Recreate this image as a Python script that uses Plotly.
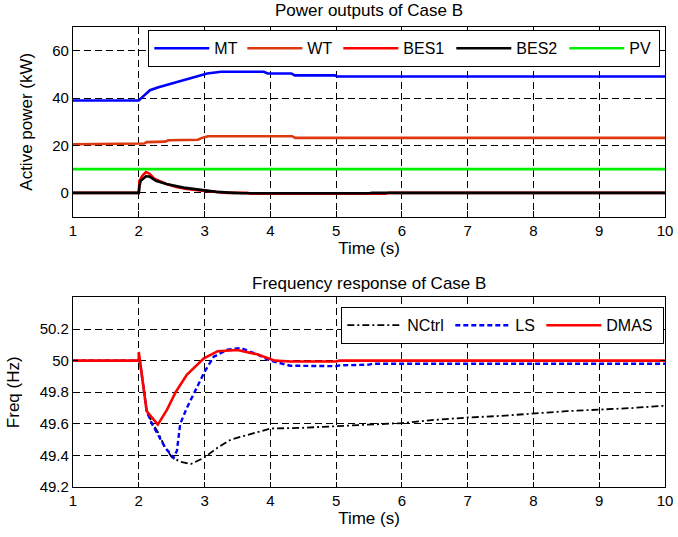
import plotly.graph_objects as go
from plotly.subplots import make_subplots

# ---------------- Data: Power outputs (kW) ----------------
t_mt = [1, 2.0, 2.05, 2.17, 2.3, 2.43, 2.55, 2.68, 2.8, 2.94, 3.04, 3.25, 3.9, 3.96, 4.32, 4.37, 4.98, 5.02, 10]
p_mt = [39, 39, 40.3, 43.3, 44.6, 45.6, 46.6, 47.6, 48.6, 49.5, 50.4, 51.1, 51.1, 50.4, 50.4, 49.6, 49.6, 49.1, 49.1]

t_wt = [1, 2.0, 2.08, 2.12, 2.4, 2.45, 2.9, 2.95, 3.05, 4.33, 4.38, 10]
p_wt = [20.5, 20.5, 20.8, 21.4, 21.6, 22.2, 22.4, 23.1, 23.9, 23.9, 23.2, 23.2]

t_bes1 = [1, 2.0, 2.01, 2.06, 2.11, 2.16, 2.24, 2.32, 2.42, 2.57, 2.73, 2.93, 3.21, 3.35, 3.65, 3.7, 5.75, 5.8, 10]
p_bes1 = [0, 0, 5.1, 7.4, 8.8, 8.1, 5.9, 4.9, 3.7, 2.5, 1.6, 1.0, 0.4, 0.0, 0.0, -0.4, -0.4, 0.0, 0.0]

t_bes2 = [1, 2.0, 2.01, 2.03, 2.11, 2.16, 2.26, 2.42, 2.68, 2.93, 3.18, 3.44, 3.6, 5.5, 5.55, 10]
p_bes2 = [0, 0, 2.9, 5.1, 7.0, 6.9, 5.1, 3.7, 2.2, 1.2, 0.4, 0.0, -0.2, -0.2, 0.0, 0.0]

t_pv = [1, 10]
p_pv = [10, 10]

# ---------------- Data: Frequency (Hz) ----------------
t_nctrl = [1, 2.0, 2.02, 2.07, 2.12, 2.2, 2.3, 2.4, 2.5, 2.63, 2.79, 2.99, 3.2, 3.4, 3.65, 4.0, 4.5, 5.0, 5.5, 6.0, 6.5, 7.0, 7.5, 8.0, 8.5, 9.0, 9.5, 10]
f_nctrl = [50, 50, 49.99, 49.85, 49.68, 49.61, 49.54, 49.45, 49.39, 49.36, 49.345, 49.385, 49.45, 49.5, 49.53, 49.57, 49.575, 49.585, 49.595, 49.605, 49.625, 49.64, 49.65, 49.665, 49.68, 49.69, 49.70, 49.715]

t_ls = [1, 2.0, 2.02, 2.07, 2.12, 2.2, 2.3, 2.4, 2.48, 2.53, 2.58, 2.63, 2.73, 2.86, 3.0, 3.14, 3.35, 3.55, 3.8, 4.0, 4.3, 5.0, 5.05, 5.5, 5.55, 10]
f_ls = [50, 50, 49.99, 49.85, 49.68, 49.6, 49.52, 49.45, 49.41, 49.385, 49.43, 49.6, 49.70, 49.815, 49.93, 50.025, 50.07, 50.08, 50.04, 50.0, 49.968, 49.965, 49.97, 49.975, 49.98, 49.98]

t_dmas = [1, 2.0, 2.0, 2.02, 2.07, 2.12, 2.2, 2.29, 2.43, 2.56, 2.73, 2.99, 3.2, 3.5, 3.8, 4.07, 4.3, 5.0, 5.05, 10]
f_dmas = [50, 50, 50.055, 49.99, 49.85, 49.68, 49.64, 49.595, 49.69, 49.80, 49.91, 50.015, 50.06, 50.067, 50.04, 50.0, 49.995, 49.995, 50.0, 50.0]

x_ticks = [1, 2, 3, 4, 5, 6, 7, 8, 9, 10]
p_ticks = [0, 20, 40, 60]
f_ticks = [49.2, 49.4, 49.6, 49.8, 50.0, 50.2]
f_tick_text = ["49.2", "49.4", "49.6", "49.8", "50", "50.2"]

FONT = "Liberation Sans, Arial, Helvetica, sans-serif"
TFONT = dict(family=FONT, size=17, color="black")

fig = make_subplots(rows=2, cols=1, vertical_spacing=0.176)

top_series = [
    ("MT", t_mt, p_mt, "rgb(0,0,255)", 23),
    ("WT", t_wt, p_wt, "rgb(222,56,16)", 26),
    ("BES1", t_bes1, p_bes1, "rgb(255,0,0)", 43),
    ("BES2", t_bes2, p_bes2, "rgb(0,0,0)", 43),
    ("PV", t_pv, p_pv, "rgb(0,240,0)", 24),
]
for name, t, v, c, lw in top_series:
    fig.add_trace(go.Scatter(x=t, y=v, mode="lines", name=name, legendwidth=lw,
                             line=dict(color=c, width=2.6), legend="legend"),
                  row=1, col=1)

fig.add_trace(go.Scatter(x=t_nctrl, y=f_nctrl, mode="lines", name="NCtrl", legendwidth=38,
                         line=dict(color="black", width=1.8, dash="7px,3px,2px,3px"),
                         legend="legend2"), row=2, col=1)
fig.add_trace(go.Scatter(x=t_ls, y=f_ls, mode="lines", name="LS", legendwidth=21,
                         line=dict(color="rgb(0,0,255)", width=2.4, dash="5px,3px"),
                         legend="legend2"), row=2, col=1)
fig.add_trace(go.Scatter(x=t_dmas, y=f_dmas, mode="lines", name="DMAS", legendwidth=51,
                         line=dict(color="rgb(255,0,0)", width=2.6),
                         legend="legend2"), row=2, col=1)

axis_common = dict(
    showline=True, linecolor="black", linewidth=1.2, mirror="ticks",
    ticks="inside", ticklen=5, tickcolor="black", tickwidth=1,
    showgrid=True, gridcolor="black", gridwidth=1, griddash="7px,4px",
    zeroline=False, automargin=False,
    tickfont=dict(family=FONT, size=15, color="black"),
)

fig.update_xaxes(range=[1, 10], tickvals=x_ticks, **axis_common)
fig.update_xaxes(title=dict(text="Time (s)", font=TFONT, standoff=4), row=1, col=1)
fig.update_xaxes(title=dict(text="Time (s)", font=TFONT, standoff=4), row=2, col=1)
fig.update_yaxes(range=[-10, 70], tickvals=p_ticks,
                 title=dict(text="Active power (kW)", font=TFONT),
                 row=1, col=1, **axis_common)
fig.update_yaxes(range=[49.2, 50.4], tickvals=f_ticks, ticktext=f_tick_text,
                 title=dict(text="Freq (Hz)", font=TFONT),
                 row=2, col=1, **axis_common)

fig.update_layout(
    width=678, height=537,
    margin=dict(l=73, r=13, t=27, b=50, autoexpand=False),
    paper_bgcolor="white", plot_bgcolor="white",
    font=dict(family=FONT, size=16, color="black"),
    showlegend=True,
    legend=dict(orientation="h", x=0.1267, y=0.9935, xanchor="left", yanchor="top",
                bordercolor="black", borderwidth=1.3, bgcolor="white",
                font=dict(family=FONT, size=16, color="black"), itemwidth=55),
    legend2=dict(orientation="h", x=0.4527, y=0.3913, xanchor="left", yanchor="top",
                 bordercolor="black", borderwidth=1.3, bgcolor="white",
                 font=dict(family=FONT, size=16, color="black"), itemwidth=55),
    annotations=[
        dict(text="Power outputs of Case B", x=0.5, y=1.0, xref="paper", yref="paper",
             xanchor="center", yanchor="bottom", yshift=5, showarrow=False, font=TFONT),
        dict(text="Frequency response of Case B", x=0.5, y=0.411, xref="paper", yref="paper",
             xanchor="center", yanchor="bottom", yshift=3, showarrow=False, font=TFONT),
    ],
)

# remove the page's default body margin so the 678x537 figure fills the window
fig.write_html("out.html",
               config={"displayModeBar": False},
               post_script="document.body.style.margin='0';document.body.style.overflow='hidden';")
